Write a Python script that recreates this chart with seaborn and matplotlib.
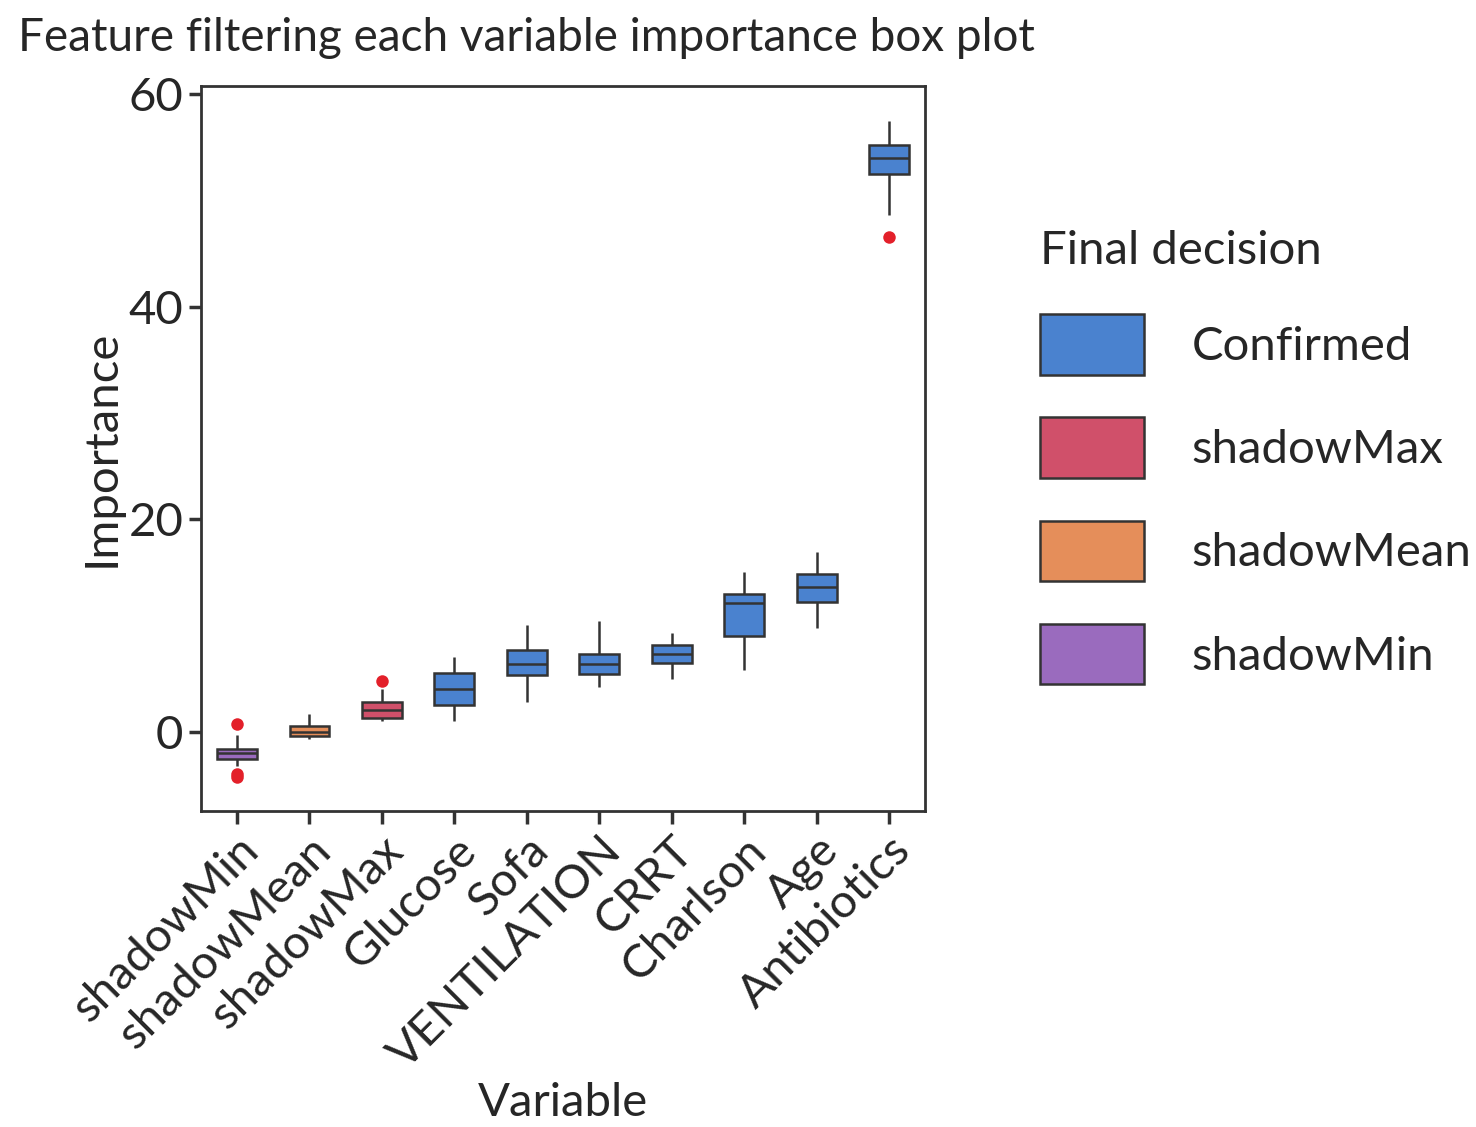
import numpy as np
import pandas as pd
import matplotlib
matplotlib.use("Agg")
import matplotlib.pyplot as plt
import seaborn as sns

variables = ["shadowMin","shadowMean","shadowMax","Glucose","Sofa","VENTILATION","CRRT","Charlson","Age","Antibiotics"]
decisions = ["shadowMin","shadowMean","shadowMax","Confirmed","Confirmed","Confirmed","Confirmed","Confirmed","Confirmed","Confirmed"]
# five-number summaries: lower whisker, q1, median, q3, upper whisker
stats = [
    [-3.2, -2.6, -2.0, -1.6, -0.3],
    [-0.7, -0.4, 0.0, 0.5, 1.7],
    [1.0, 1.3, 2.0, 2.8, 4.0],
    [1.0, 2.5, 4.0, 5.5, 7.0],
    [2.8, 5.3, 6.4, 7.7, 10.0],
    [4.2, 5.4, 6.4, 7.3, 10.4],
    [5.0, 6.5, 7.3, 8.2, 9.3],
    [5.8, 9.0, 12.1, 13.0, 15.0],
    [9.8, 12.2, 13.6, 14.8, 16.9],
    [48.6, 52.5, 54.0, 55.2, 57.5],
]
outlier_vars = ["shadowMin","shadowMin","shadowMin","shadowMax","Antibiotics"]
outlier_vals = [-4.3, -4.0, 0.7, 4.8, 46.6]
hue_order = ["Confirmed","shadowMax","shadowMean","shadowMin"]
palette = {"Confirmed":"#4A82CF","shadowMax":"#D0506A","shadowMean":"#E58E5A","shadowMin":"#9A6BBE"}

rows = []
for v, d, s in zip(variables, decisions, stats):
    for val in s:
        rows.append({"Variable": v, "Importance": val, "Final decision": d})
df = pd.DataFrame(rows)
out = pd.DataFrame({"Variable": outlier_vars, "Importance": outlier_vals})

sns.set_style("ticks")
plt.rcParams['font.family'] = ['Lato', 'DejaVu Sans']

fig = plt.figure(figsize=(14.76, 11.27), dpi=100)
ax = fig.add_axes([0.136, 0.28, 0.491, 0.644])
sns.boxplot(data=df, x="Variable", y="Importance", hue="Final decision", order=variables,
            hue_order=hue_order, palette=palette, dodge=False, whis=np.inf, width=0.55,
            saturation=1, showcaps=False, linecolor="#333333", linewidth=1.8, ax=ax)
sns.stripplot(data=out, x="Variable", y="Importance", order=variables, color="#E3202A",
              size=9, jitter=False, ax=ax, legend=False)
ax.set_ylim(-7.5, 60.8)
ax.set_yticks([0, 20, 40, 60])
ax.tick_params(axis='both', labelsize=34, width=2.5, length=9, color="#333333")
plt.setp(ax.get_xticklabels(), rotation=45, ha="right", rotation_mode="anchor")
for sp in ax.spines.values():
    sp.set_visible(True); sp.set_linewidth(2); sp.set_color("#333333")
ax.set_xlabel("Variable", fontsize=34)
ax.set_ylabel("Importance", fontsize=34)
leg = ax.legend(title="Final decision", loc="upper left", bbox_to_anchor=(1.1, 0.86),
                frameon=False, fontsize=34, title_fontsize=34, labelspacing=0.9,
                handlelength=2.2, handleheight=1.6, handletextpad=1.0)
leg._legend_box.align = "left"
fig.text(0.012, 0.985, "Feature filtering each variable importance box plot", fontsize=33, va="top", ha="left")
fig.savefig("out.png", dpi=100)
